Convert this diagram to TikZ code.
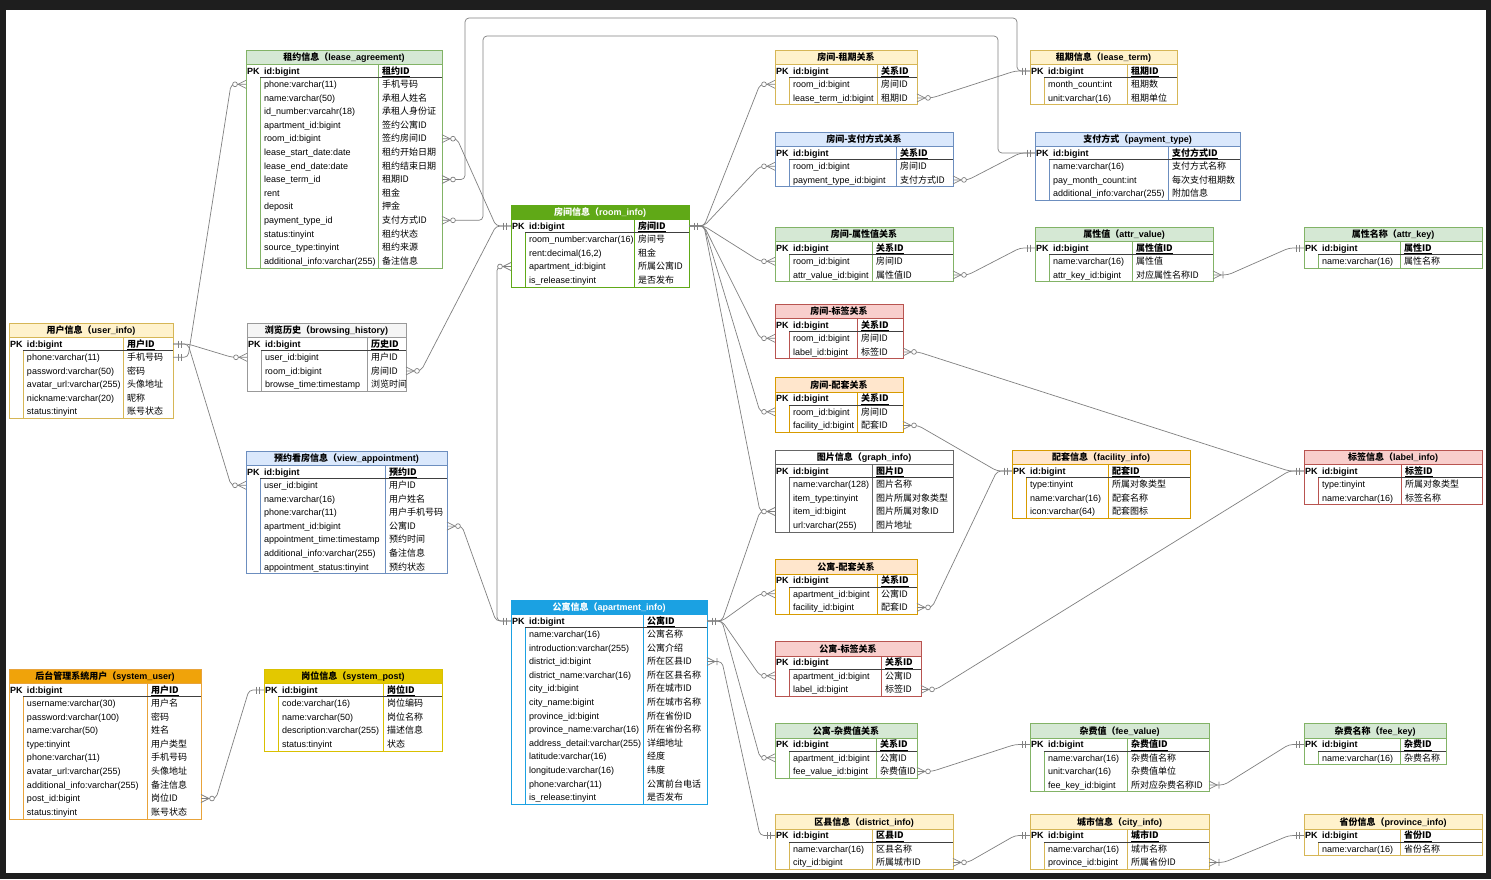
\documentclass[tikz,border=0pt]{standalone}
\usepackage{fontspec}
\setmainfont{Liberation Sans}
\newfontfamily\cjk{Noto Sans CJK SC}
\usetikzlibrary{calc}
\definecolor{bgdark}{HTML}{1E1E1E}
\definecolor{linegray}{HTML}{808080}
\definecolor{greenF}{HTML}{D5E8D4}\definecolor{greenS}{HTML}{82B366}
\definecolor{yellowF}{HTML}{FFF2CC}\definecolor{yellowS}{HTML}{D6B656}
\definecolor{blueF}{HTML}{DAE8FC}\definecolor{blueS}{HTML}{6C8EBF}
\definecolor{redF}{HTML}{F8CECC}\definecolor{redS}{HTML}{B85450}
\definecolor{orangeF}{HTML}{FFE6CC}\definecolor{orangeS}{HTML}{D79B00}
\definecolor{grayF}{HTML}{F5F5F5}\definecolor{grayS}{HTML}{999999}
\definecolor{whiteF}{HTML}{FFFFFF}\definecolor{graphS}{HTML}{666666}
\definecolor{roomF}{HTML}{60A917}\definecolor{roomS}{HTML}{60A917}
\definecolor{aptF}{HTML}{1BA1E2}\definecolor{aptS}{HTML}{1BA1E2}
\definecolor{suF}{HTML}{F0A30A}\definecolor{suS}{HTML}{E8A33A}
\definecolor{spF}{HTML}{E3C800}\definecolor{spS}{HTML}{D9C000}
\tikzset{
  conn/.style={draw=linegray, line width=0.7pt},
  link/.style={conn, rounded corners=4pt},
  cell/.style={inner sep=0pt, outer sep=0pt, anchor=base west, font=\fontsize{9}{10}\selectfont},
  cellb/.style={cell, font=\bfseries\fontsize{9}{10}\selectfont},
  rowbox/.style={inner sep=0pt, outer sep=0pt, minimum height=13.6pt, draw=none},
  titletext/.style={inner sep=0pt, anchor=base, font=\bfseries\fontsize{9}{10}\selectfont},
}
\newcommand\Tdef[5]{\gdef\Tid{#1}\gdef\Tx{#2}\gdef\Ty{#3}\gdef\Tw{#4}\gdef\Tc{#5}}
\newcommand\Thead[4]{%
  \gdef\Tstroke{#2}%
  \fill[#1] (\Tx,\Ty) rectangle ({\Tx+\Tw},{\Ty+14.5});
  \node[titletext, text=#3] (\Tid-h) at ({\Tx+\Tw/2},{\Ty+10.6}) {#4};}
\newcommand\Tpk[1]{%
  \node[rowbox, minimum width=\Tw pt] (\Tid-0) at ({\Tx+\Tw/2},{\Ty+21}) {};
  \node[cellb] (\Tid-0-k) at ({\Tx+1},{\Ty+24.2}) {PK};
  \node[cellb] (\Tid-0-n) at ({\Tx+18},{\Ty+24.2}) {\underline{id:bigint}};
  \node[cellb] (\Tid-0-c) at ({\Tx+\Tc+4},{\Ty+24.2}) {\underline{\cjk #1}};}
\newcommand\Trow[3]{%
  \pgfmathsetmacro\yc{\Ty+34.3+13.6*(#1-1)}
  \pgfmathsetmacro\ybase{\yc+3.2}
  \node[rowbox, minimum width=\Tw pt] (\Tid-#1) at ({\Tx+\Tw/2},\yc) {};
  \node[cell] (\Tid-#1-n) at ({\Tx+18},\ybase) {#2};
  \node[cell] (\Tid-#1-c) at ({\Tx+\Tc+4},\ybase) {\cjk #3};}
\newcommand\Tend[1]{%
  \pgfmathsetmacro\yb{\Ty+27.5+13.6*#1}
  \draw[draw=\Tstroke, line width=0.7pt] ({\Tx+14},{\Ty+27.5}) -- ({\Tx+14},\yb)
     ({\Tx+\Tc},{\Ty+14.5}) -- ({\Tx+\Tc},\yb)
     (\Tx,{\Ty+14.5}) -- ({\Tx+\Tw},{\Ty+14.5});
  \draw[draw=\Tstroke, line width=0.8pt] (\Tx,\Ty) rectangle ({\Tx+\Tw},\yb);
  \draw[line width=0.8pt, draw=black!75] ({\Tx+14},{\Ty+27.5}) -- ({\Tx+\Tw},{\Ty+27.5});}
\newcommand\erlink[2]{\draw[link] (#1) -- ([xshift=15pt]#1) -- ([xshift=-15pt]#2) -- (#2);}
\newcommand\erOne[2]{\draw[conn] ([xshift=#2*5pt,yshift=3.5pt]#1) -- ([xshift=#2*5pt,yshift=-3.5pt]#1)
   ([xshift=#2*8pt,yshift=3.5pt]#1) -- ([xshift=#2*8pt,yshift=-3.5pt]#1);}
\newcommand\erZM[2]{\draw[conn] ([yshift=4pt]#1) -- ([xshift=#2*8pt]#1) -- ([yshift=-4pt]#1);
   \draw[conn, fill=white] ([xshift=#2*11pt]#1) circle (2.4pt);}
\newcommand\erOM[2]{\draw[conn] ([yshift=4pt]#1) -- ([xshift=#2*8pt]#1) -- ([yshift=-4pt]#1)
   ([xshift=#2*10pt,yshift=3.5pt]#1) -- ([xshift=#2*10pt,yshift=-3.5pt]#1);}
\begin{document}
\begin{tikzpicture}[x=1pt,y=-1pt]
\fill[bgdark] (0,0) rectangle (1491,879);
\fill[white] (6,10) rectangle (1486,873);
\useasboundingbox (0,0) rectangle (1491,879);

% ---------- lease_agreement
\Tdef{la}{246}{50}{196}{132}
\Thead{greenF}{greenS}{black}{{\cjk 租约信息（}lease\_agreement)}
\Tpk{租约ID}
\Trow{1}{phone:varchar(11)}{手机号码}
\Trow{2}{name:varchar(50)}{承租人姓名}
\Trow{3}{id\_number:varcahr(18)}{承租人身份证}
\Trow{4}{apartment\_id:bigint}{签约公寓ID}
\Trow{5}{room\_id:bigint}{签约房间ID}
\Trow{6}{lease\_start\_date:date}{租约开始日期}
\Trow{7}{lease\_end\_date:date}{租约结束日期}
\Trow{8}{lease\_term\_id}{租期ID}
\Trow{9}{rent}{租金}
\Trow{10}{deposit}{押金}
\Trow{11}{payment\_type\_id}{支付方式ID}
\Trow{12}{status:tinyint}{租约状态}
\Trow{13}{source\_type:tinyint}{租约来源}
\Trow{14}{additional\_info:varchar(255)}{备注信息}
\Tend{14}

% ---------- user_info
\Tdef{ui}{9}{323}{164}{114}
\Thead{yellowF}{yellowS}{black}{{\cjk 用户信息（}user\_info)}
\Tpk{用户ID}
\Trow{1}{phone:varchar(11)}{手机号码}
\Trow{2}{password:varchar(50)}{密码}
\Trow{3}{avatar\_url:varchar(255)}{头像地址}
\Trow{4}{nickname:varchar(20)}{昵称}
\Trow{5}{status:tinyint}{账号状态}
\Tend{5}

% ---------- browsing_history
\Tdef{bh}{247}{323}{159}{120}
\Thead{grayF}{grayS}{black}{{\cjk 浏览历史（}browsing\_history)}
\Tpk{历史ID}
\Trow{1}{user\_id:bigint}{用户ID}
\Trow{2}{room\_id:bigint}{房间ID}
\Trow{3}{browse\_time:timestamp}{浏览时间}
\Tend{3}

% ---------- view_appointment
\Tdef{va}{246}{451}{201}{139}
\Thead{blueF}{blueS}{black}{{\cjk 预约看房信息（}view\_appointment)}
\Tpk{预约ID}
\Trow{1}{user\_id:bigint}{用户ID}
\Trow{2}{name:varchar(16)}{用户姓名}
\Trow{3}{phone:varchar(11)}{用户手机号码}
\Trow{4}{apartment\_id:bigint}{公寓ID}
\Trow{5}{appointment\_time:timestamp}{预约时间}
\Trow{6}{additional\_info:varchar(255)}{备注信息}
\Trow{7}{appointment\_status:tinyint}{预约状态}
\Tend{7}

% ---------- room_info
\Tdef{ri}{511}{205}{178}{123}
\Thead{roomF}{roomS}{white}{{\cjk 房间信息（}room\_info)}
\Tpk{房间ID}
\Trow{1}{room\_number:varchar(16)}{房间号}
\Trow{2}{rent:decimal(16,2)}{租金}
\Trow{3}{apartment\_id:bigint}{所属公寓ID}
\Trow{4}{is\_release:tinyint}{是否发布}
\Tend{4}

% ---------- apartment_info
\Tdef{ai}{511}{600}{196}{132}
\Thead{aptF}{aptS}{white}{{\cjk 公寓信息（}apartment\_info)}
\Tpk{公寓ID}
\Trow{1}{name:varchar(16)}{公寓名称}
\Trow{2}{introduction:varchar(255)}{公寓介绍}
\Trow{3}{district\_id:bigint}{所在区县ID}
\Trow{4}{district\_name:varchar(16)}{所在区县名称}
\Trow{5}{city\_id:bigint}{所在城市ID}
\Trow{6}{city\_name:bigint}{所在城市名称}
\Trow{7}{province\_id:bigint}{所在省份ID}
\Trow{8}{province\_name:varchar(16)}{所在省份名称}
\Trow{9}{address\_detail:varchar(255)}{详细地址}
\Trow{10}{latitude:varchar(16)}{经度}
\Trow{11}{longitude:varchar(16)}{纬度}
\Trow{12}{phone:varchar(11)}{公寓前台电话}
\Trow{13}{is\_release:tinyint}{是否发布}
\Tend{13}

% ---------- system_user
\Tdef{su}{9}{669}{192}{138}
\Thead{suF}{suS}{black}{{\cjk 后台管理系统用户（}system\_user)}
\Tpk{用户ID}
\Trow{1}{username:varchar(30)}{用户名}
\Trow{2}{password:varchar(100)}{密码}
\Trow{3}{name:varchar(50)}{姓名}
\Trow{4}{type:tinyint}{用户类型}
\Trow{5}{phone:varchar(11)}{手机号码}
\Trow{6}{avatar\_url:varchar(255)}{头像地址}
\Trow{7}{additional\_info:varchar(255)}{备注信息}
\Trow{8}{post\_id:bigint}{岗位ID}
\Trow{9}{status:tinyint}{账号状态}
\Tend{9}

% ---------- system_post
\Tdef{sp}{264}{669}{178}{119}
\Thead{spF}{spS}{black}{{\cjk 岗位信息（}system\_post)}
\Tpk{岗位ID}
\Trow{1}{code:varchar(16)}{岗位编码}
\Trow{2}{name:varchar(50)}{岗位名称}
\Trow{3}{description:varchar(255)}{描述信息}
\Trow{4}{status:tinyint}{状态}
\Tend{4}

% ---------- relation tables
\Tdef{rlt}{775}{50}{142}{102}
\Thead{yellowF}{yellowS}{black}{\cjk 房间-租期关系}
\Tpk{关系ID}
\Trow{1}{room\_id:bigint}{房间ID}
\Trow{2}{lease\_term\_id:bigint}{租期ID}
\Tend{2}

\Tdef{rpt}{775}{132}{178}{121}
\Thead{blueF}{blueS}{black}{\cjk 房间-支付方式关系}
\Tpk{关系ID}
\Trow{1}{room\_id:bigint}{房间ID}
\Trow{2}{payment\_type\_id:bigint}{支付方式ID}
\Tend{2}

\Tdef{rav}{775}{227}{178}{97}
\Thead{greenF}{greenS}{black}{\cjk 房间-属性值关系}
\Tpk{关系ID}
\Trow{1}{room\_id:bigint}{房间ID}
\Trow{2}{attr\_value\_id:bigint}{属性值ID}
\Tend{2}

\Tdef{rlb}{775}{304}{128}{82}
\Thead{redF}{redS}{black}{\cjk 房间-标签关系}
\Tpk{关系ID}
\Trow{1}{room\_id:bigint}{房间ID}
\Trow{2}{label\_id:bigint}{标签ID}
\Tend{2}

\Tdef{rfc}{775}{377.5}{128}{82}
\Thead{orangeF}{orangeS}{black}{\cjk 房间-配套关系}
\Tpk{关系ID}
\Trow{1}{room\_id:bigint}{房间ID}
\Trow{2}{facility\_id:bigint}{配套ID}
\Tend{2}

\Tdef{gi}{775}{450}{178}{97}
\Thead{whiteF}{graphS}{black}{{\cjk 图片信息（}graph\_info)}
\Tpk{图片ID}
\Trow{1}{name:varchar(128)}{图片名称}
\Trow{2}{item\_type:tinyint}{图片所属对象类型}
\Trow{3}{item\_id:bigint}{图片所属对象ID}
\Trow{4}{url:varchar(255)}{图片地址}
\Tend{4}

\Tdef{afc}{775}{559.5}{142}{102}
\Thead{orangeF}{orangeS}{black}{\cjk 公寓-配套关系}
\Tpk{关系ID}
\Trow{1}{apartment\_id:bigint}{公寓ID}
\Trow{2}{facility\_id:bigint}{配套ID}
\Tend{2}

\Tdef{alb}{775}{641.5}{146}{106}
\Thead{redF}{redS}{black}{\cjk 公寓-标签关系}
\Tpk{关系ID}
\Trow{1}{apartment\_id:bigint}{公寓ID}
\Trow{2}{label\_id:bigint}{标签ID}
\Tend{2}

\Tdef{afv}{775}{723.5}{142}{101}
\Thead{greenF}{greenS}{black}{\cjk 公寓-杂费值关系}
\Tpk{关系ID}
\Trow{1}{apartment\_id:bigint}{公寓ID}
\Trow{2}{fee\_value\_id:bigint}{杂费值ID}
\Tend{2}

\Tdef{di}{775}{814.5}{178}{97}
\Thead{yellowF}{yellowS}{black}{{\cjk 区县信息（}district\_info)}
\Tpk{区县ID}
\Trow{1}{name:varchar(16)}{区县名称}
\Trow{2}{city\_id:bigint}{所属城市ID}
\Tend{2}

% ---------- right tables
\Tdef{lt}{1030}{50}{147}{97}
\Thead{yellowF}{yellowS}{black}{{\cjk 租期信息（}lease\_term)}
\Tpk{租期ID}
\Trow{1}{month\_count:int}{租期数}
\Trow{2}{unit:varchar(16)}{租期单位}
\Tend{2}

\Tdef{pt}{1035}{132}{205}{133}
\Thead{blueF}{blueS}{black}{{\cjk 支付方式（}payment\_type)}
\Tpk{支付方式ID}
\Trow{1}{name:varchar(16)}{支付方式名称}
\Trow{2}{pay\_month\_count:int}{每次支付租期数}
\Trow{3}{additional\_info:varchar(255)}{附加信息}
\Tend{3}

\Tdef{av}{1035}{227}{178}{97}
\Thead{greenF}{greenS}{black}{{\cjk 属性值（}attr\_value)}
\Tpk{属性值ID}
\Trow{1}{name:varchar(16)}{属性值}
\Trow{2}{attr\_key\_id:bigint}{对应属性名称ID}
\Tend{2}

\Tdef{ak}{1304}{227}{178}{96}
\Thead{greenF}{greenS}{black}{{\cjk 属性名称（}attr\_key)}
\Tpk{属性ID}
\Trow{1}{name:varchar(16)}{属性名称}
\Tend{1}

\Tdef{fi}{1012}{450}{178}{96}
\Thead{orangeF}{orangeS}{black}{{\cjk 配套信息（}facility\_info)}
\Tpk{配套ID}
\Trow{1}{type:tinyint}{所属对象类型}
\Trow{2}{name:varchar(16)}{配套名称}
\Trow{3}{icon:varchar(64)}{配套图标}
\Tend{3}

\Tdef{li}{1304}{450}{178}{97}
\Thead{redF}{redS}{black}{{\cjk 标签信息（}label\_info)}
\Tpk{标签ID}
\Trow{1}{type:tinyint}{所属对象类型}
\Trow{2}{name:varchar(16)}{标签名称}
\Tend{2}

\Tdef{fv}{1030}{723.5}{179}{97}
\Thead{greenF}{greenS}{black}{{\cjk 杂费值（}fee\_value)}
\Tpk{杂费值ID}
\Trow{1}{name:varchar(16)}{杂费值名称}
\Trow{2}{unit:varchar(16)}{杂费值单位}
\Trow{3}{fee\_key\_id:bigint}{所对应杂费名称ID}
\Tend{3}

\Tdef{fk}{1304}{723.5}{142}{96}
\Thead{greenF}{greenS}{black}{{\cjk 杂费名称（}fee\_key)}
\Tpk{杂费ID}
\Trow{1}{name:varchar(16)}{杂费名称}
\Tend{1}

\Tdef{ci}{1030}{814.5}{179}{97}
\Thead{yellowF}{yellowS}{black}{{\cjk 城市信息（}city\_info)}
\Tpk{城市ID}
\Trow{1}{name:varchar(16)}{城市名称}
\Trow{2}{province\_id:bigint}{所属省份ID}
\Tend{2}

\Tdef{pv}{1304}{814.5}{178}{96}
\Thead{yellowF}{yellowS}{black}{{\cjk 省份信息（}province\_info)}
\Tpk{省份ID}
\Trow{1}{name:varchar(16)}{省份名称}
\Tend{1}

% ---------- connectors
\erlink{ui-1.east}{la-1.west}
\erlink{ui-0.east}{bh-1.west}
\erlink{ui-0.east}{va-1.west}
\erlink{la-5.east}{ri-0.west}
\erlink{bh-2.east}{ri-0.west}
\erlink{va-4.east}{ai-0.west}
\draw[link] (ri-3.west) -- ([xshift=-14pt]ri-3.west) |- (ai-0.west);
\coordinate (ta1) at (465,18);
\coordinate (ta2) at (1017,18);
\coordinate (tb1) at (483,36);
\coordinate (tb2) at (998,36);
\draw[link] (la-8.east) -| (ta1) -- (ta2) |- (lt-0.west);
\draw[link] (la-11.east) -| (tb1) -- (tb2) |- (pt-0.west);
\erlink{ri-0.east}{rlt-1.west}
\erlink{ri-0.east}{rpt-1.west}
\erlink{ri-0.east}{rav-1.west}
\erlink{ri-0.east}{rlb-1.west}
\erlink{ri-0.east}{rfc-1.west}
\erlink{ri-0.east}{gi-3.west}
\erlink{ai-0.east}{gi-3.west}
\erlink{ai-0.east}{afc-1.west}
\erlink{ai-0.east}{alb-1.west}
\erlink{ai-0.east}{afv-1.west}
\erlink{ai-3.east}{di-0.west}
\erlink{rlt-2.east}{lt-0.west}
\erlink{rpt-2.east}{pt-0.west}
\erlink{rav-2.east}{av-0.west}
\erlink{av-2.east}{ak-0.west}
\erlink{rlb-2.east}{li-0.west}
\erlink{rfc-2.east}{fi-0.west}
\erlink{afc-2.east}{fi-0.west}
\erlink{alb-2.east}{li-0.west}
\erlink{afv-2.east}{fv-0.west}
\erlink{fv-3.east}{fk-0.west}
\erlink{di-2.east}{ci-0.west}
\erlink{ci-2.east}{pv-0.west}
\erlink{su-8.east}{sp-0.west}

% ---------- marks
\erOne{ui-0.east}{1}\erOne{ui-1.east}{1}
\erZM{la-1.west}{-1}\erZM{bh-1.west}{-1}\erZM{va-1.west}{-1}
\erZM{la-5.east}{1}\erZM{bh-2.east}{1}\erZM{va-4.east}{1}
\erZM{la-8.east}{1}\erZM{la-11.east}{1}
\erOne{ri-0.west}{-1}\erOne{ai-0.west}{-1}\erZM{ri-3.west}{-1}
\erOne{ri-0.east}{1}\erOne{ai-0.east}{1}
\erZM{rlt-1.west}{-1}\erZM{rpt-1.west}{-1}\erZM{rav-1.west}{-1}
\erZM{rlb-1.west}{-1}\erZM{rfc-1.west}{-1}\erZM{gi-3.west}{-1}
\erZM{afc-1.west}{-1}\erZM{alb-1.west}{-1}\erZM{afv-1.west}{-1}
\erOM{ai-3.east}{1}\erOne{di-0.west}{-1}
\erZM{rlt-2.east}{1}\erOne{lt-0.west}{-1}
\erZM{rpt-2.east}{1}\erOne{pt-0.west}{-1}
\erZM{rav-2.east}{1}\erOne{av-0.west}{-1}
\erOM{av-2.east}{1}\erOne{ak-0.west}{-1}
\erZM{rlb-2.east}{1}\erZM{alb-2.east}{1}\erOne{li-0.west}{-1}
\erZM{rfc-2.east}{1}\erZM{afc-2.east}{1}\erOne{fi-0.west}{-1}
\erZM{afv-2.east}{1}\erOne{fv-0.west}{-1}
\erOM{fv-3.east}{1}\erOne{fk-0.west}{-1}
\erZM{di-2.east}{1}\erOne{ci-0.west}{-1}
\erOM{ci-2.east}{1}\erOne{pv-0.west}{-1}
\erZM{su-8.east}{1}\erOne{sp-0.west}{-1}
\end{tikzpicture}
\end{document}
